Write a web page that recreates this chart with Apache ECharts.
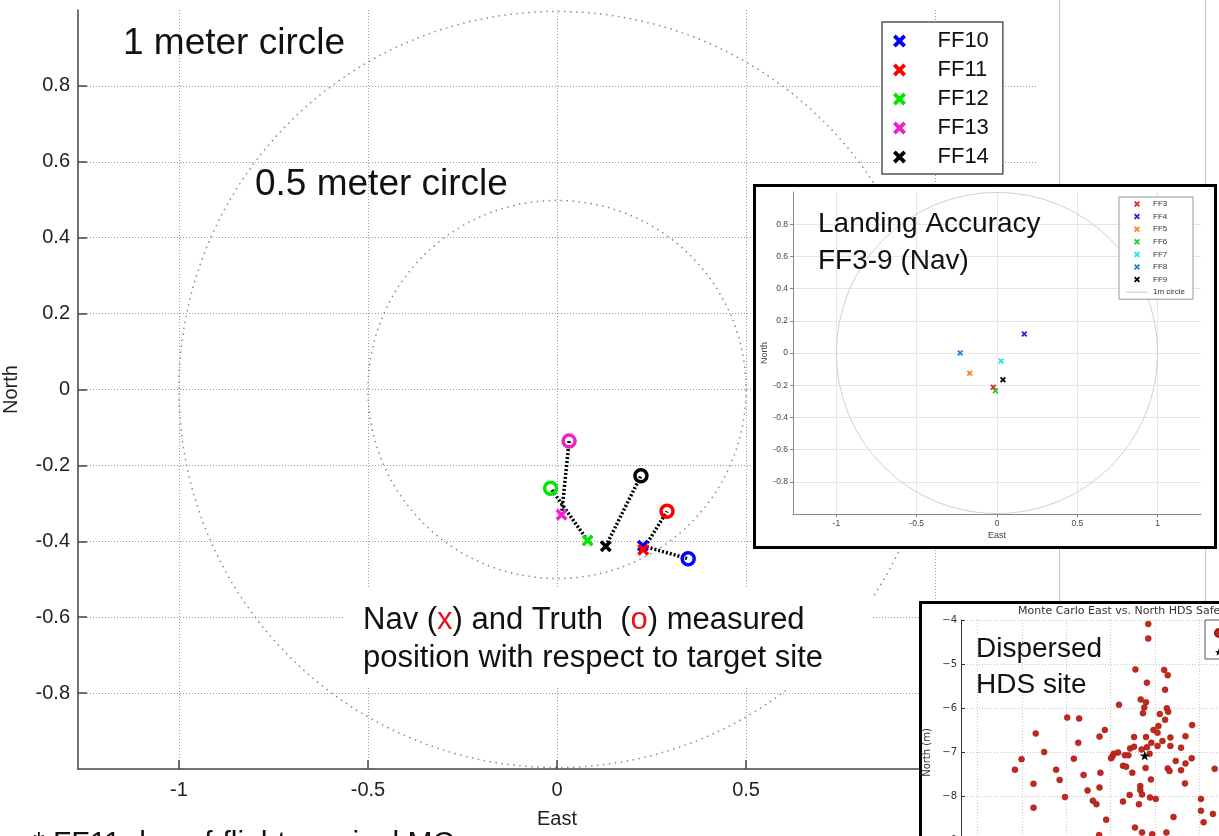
<!DOCTYPE html>
<html>
<head>
<meta charset="utf-8">
<title>Landing accuracy</title>
<script src="https://cdn.jsdelivr.net/npm/echarts@6.0.0/dist/echarts.min.js"></script>
<style>
  html, body { margin: 0; padding: 0; background: #fff; }
  #chart { width: 1219px; height: 836px; }
</style>
</head>
<body>
<div id="chart"></div>
<script>
// main plot: FF10-FF14, nav (x) vs truth (o), metres from target
const flights = ['FF10', 'FF11', 'FF12', 'FF13', 'FF14']
const flightColors = ['#0000ff', '#ff0000', '#00e600', '#ee22cc', '#000000']
const navEast = [0.227, 0.228, 0.081, 0.012, 0.129]
const navNorth = [-0.412, -0.422, -0.398, -0.330, -0.413]
const truthEast = [0.347, 0.291, -0.017, 0.032, 0.222]
const truthNorth = [-0.446, -0.321, -0.260, -0.136, -0.227]
const circleRadii = [1, 0.5]
const eastTicks = [-1, -0.5, 0, 0.5, 1]
const northTicks = [-0.8, -0.6, -0.4, -0.2, 0, 0.2, 0.4, 0.6, 0.8]

// inset: landing accuracy FF3-9 (nav)
const insetFlights = ['FF3', 'FF4', 'FF5', 'FF6', 'FF7', 'FF8', 'FF9']
const insetColors = ['#ee2020', '#2020d8', '#ff8020', '#22cc22', '#22e6e6', '#2080e0', '#000000']
const insetEast = [-0.023, 0.170, -0.170, -0.010, 0.025, -0.229, 0.037]
const insetNorth = [-0.213, 0.118, -0.126, -0.234, -0.050, 0.000, -0.166]

// monte carlo dispersed HDS sites
const mcEast = [-1.15, -1.15, -1.44, -0.79, -0.71, -1.18, -0.77, -1.81, -1.32, -1.20,
  -1.24, -1.27, -0.73, -0.70, -0.89, -2.98, -2.71, -0.16, -0.77, -0.92,
  -1.03, -0.94, -2.13, -2.25, -1.47, -1.20, -0.65, -0.31, -3.69, -2.73,
  -1.08, -0.83, -0.94, -0.65, -1.18, -0.41, -1.30, -1.56, -1.47, -1.83,
  -1.93, -3.50, -1.68, -1.60, -1.12, -1.96, -1.99, -4.01, -2.83, -0.17,
  -0.31, -0.53, -1.72, -1.65, -1.21, -0.71, -0.67, -0.41, -4.16, -3.23,
  -2.23, -1.51, -2.61, -3.15, -1.09, -0.32, -3.74, -1.33, -1.33, -2.25,
  -2.52, -1.57, -1.29, -3.03, -1.11, -0.98, -2.40, -2.32, -1.72, -1.36,
  0.04, -3.74, 0.04, 0.31, 0.10, -0.58, -2.10, -1.45, -1.29, -0.74,
  -2.26, -1.06, 0.35]
const mcNorth = [-4.09, -4.42, -5.12, -5.13, -5.25, -5.42, -5.58, -5.92, -5.80, -5.86,
  -5.98, -6.11, -6.00, -6.08, -6.13, -6.21, -6.23, -6.38, -6.26, -6.40,
  -6.49, -6.55, -6.49, -6.64, -6.65, -6.65, -6.66, -6.63, -6.57, -6.78,
  -6.78, -6.74, -6.85, -6.85, -6.88, -6.89, -6.93, -6.91, -6.87, -7.00,
  -7.03, -6.99, -7.06, -7.06, -7.03, -7.09, -7.13, -7.15, -7.14, -7.13,
  -7.25, -7.19, -7.30, -7.32, -7.35, -7.36, -7.42, -7.40, -7.39, -7.39,
  -7.46, -7.46, -7.51, -7.62, -7.61, -7.70, -7.71, -7.76, -7.85, -7.79,
  -7.86, -7.96, -7.95, -8.01, -8.02, -8.05, -8.09, -8.17, -8.11, -8.17,
  -8.05, -8.25, -8.32, -8.39, -8.58, -8.46, -8.52, -8.70, -8.81, -8.81,
  -8.87, -8.85, -7.37]
const mcTargetEast = [-1.23]
const mcTargetNorth = [-7.07]
const mcEastTicks = [-5, -4, -3, -2, -1, 0, 1, 2]

const X_ICON = 'path://M0,2.5 L2.5,0 L6,3.5 L9.5,0 L12,2.5 L8.5,6 L12,9.5 L9.5,12 L6,8.5 L2.5,12 L0,9.5 L3.5,6 Z'
const STAR = 'path://M5,0 L6.2,3.6 L10,3.6 L6.9,5.8 L8.1,9.5 L5,7.2 L1.9,9.5 L3.1,5.8 L0,3.6 L3.8,3.6 Z'
const SANS = 'Liberation Sans, Arial, sans-serif'
const DEJA = 'DejaVu Sans, sans-serif'

let chart = echarts.init(document.getElementById('chart'))

// circles drawn through the axis scale
function circleRenderer (style) {
  return function (params, api) {
    const c = api.coord([api.value(0), api.value(1)])
    const r = api.size([api.value(2), 0])[0]
    return {
      type: 'circle',
      shape: { cx: c[0], cy: c[1], r: r },
      style: Object.assign({ fill: 'none' }, style)
    }
  }
}

let series = []

// main plot
series.push({
  type: 'custom', name: 'circles', xAxisIndex: 0, yAxisIndex: 0, zlevel: 0, z: 1, silent: true,
  data: circleRadii.map(r => [0, 0, r]),
  encode: { x: 0, y: 1 },
  renderItem: circleRenderer({ stroke: '#8a8a8a', lineWidth: 1.5, lineDash: [1.5, 4.5] })
})
flights.forEach((f, i) => {
  series.push({
    type: 'line', name: f + ' path', xAxisIndex: 0, yAxisIndex: 0, zlevel: 0, z: 2,
    data: [[navEast[i], navNorth[i]], [truthEast[i], truthNorth[i]]],
    symbol: 'none', silent: true,
    lineStyle: { color: '#000', width: 3.5, type: [2, 2] }
  })
})
flights.forEach((f, i) => {
  series.push({
    type: 'scatter', name: f + ' truth', xAxisIndex: 0, yAxisIndex: 0, zlevel: 0, z: 3,
    data: [[truthEast[i], truthNorth[i]]],
    symbol: 'circle', symbolSize: 12,
    itemStyle: { color: 'rgba(0,0,0,0)', borderColor: flightColors[i], borderWidth: 3.5, opacity: 1 }
  })
})
flights.forEach((f, i) => {
  series.push({
    type: 'scatter', name: f, xAxisIndex: 0, yAxisIndex: 0, zlevel: 0, z: 4,
    data: [[navEast[i], navNorth[i]]],
    symbol: X_ICON, symbolSize: 12,
    itemStyle: { color: flightColors[i], opacity: 1 }
  })
})

// inset 1
series.push({
  type: 'custom', name: '1m circle', xAxisIndex: 1, yAxisIndex: 1, zlevel: 1, z: 6, silent: true,
  data: [[0, 0, 1]],
  encode: { x: 0, y: 1 },
  itemStyle: { color: '#c8c8c8' },
  renderItem: circleRenderer({ stroke: '#d0d0d0', lineWidth: 1 })
})
insetFlights.forEach((f, i) => {
  series.push({
    type: 'scatter', name: f, xAxisIndex: 1, yAxisIndex: 1, zlevel: 1, z: 7,
    data: [[insetEast[i], insetNorth[i]]],
    symbol: X_ICON, symbolSize: 6,
    itemStyle: { color: insetColors[i], opacity: 1 }
  })
})

// inset 2
series.push({
  type: 'scatter', name: 'HDS sites', xAxisIndex: 2, yAxisIndex: 2, zlevel: 2, z: 7,
  data: mcEast.map((e, i) => [e, mcNorth[i]]),
  symbol: 'circle', symbolSize: 6,
  itemStyle: { color: '#c4281c', borderColor: '#8e1a12', borderWidth: 0.5, opacity: 1 }
})
series.push({
  type: 'scatter', name: 'Nominal site', xAxisIndex: 2, yAxisIndex: 2, zlevel: 2, z: 8,
  data: mcTargetEast.map((e, i) => [e, mcTargetNorth[i]]),
  symbol: STAR, symbolSize: 10,
  itemStyle: { color: '#000', opacity: 1 }
})

function mainAxis (name, ticks, gap, extra) {
  return Object.assign({
    type: 'value', zlevel: 0, z: 1,
    name: name, nameLocation: 'middle', nameGap: gap,
    nameTextStyle: { fontSize: 20, color: '#222', fontFamily: SANS },
    axisLine: { onZero: false, lineStyle: { color: '#444', width: 1.5 } },
    axisTick: { inside: true, length: 9, customValues: ticks, lineStyle: { color: '#444', width: 1.5 } },
    splitLine: { show: true, lineStyle: { color: '#9a9a9a', width: 1, type: [1, 2] } }
  }, extra)
}

function insetAxis (name, ticks, gap, extra) {
  return Object.assign({
    type: 'value', zlevel: 1, z: 5,
    name: name, nameLocation: 'middle', nameGap: gap,
    nameTextStyle: { fontSize: 9, color: '#444', fontFamily: SANS },
    axisLine: { onZero: false, lineStyle: { color: '#888', width: 1 } },
    axisTick: { length: 3, customValues: ticks, lineStyle: { color: '#888' } },
    axisLabel: { customValues: ticks, fontSize: 8.5, color: '#444', margin: 5, fontFamily: SANS, formatter: v => String(+v.toFixed(2)) },
    splitLine: { show: true, lineStyle: { color: '#e6e6e6', width: 1 } }
  }, extra)
}

let option = {
  backgroundColor: '#fff',
  animation: false,
  grid: [
    { left: 78, top: 10, width: 958, height: 759, zlevel: 0, outerBoundsMode: 'none', containLabel: false },
    { left: 793, top: 192, width: 408, height: 322, zlevel: 1, outerBoundsMode: 'none', containLabel: false },
    { left: 961, top: 620, width: 364, height: 265, zlevel: 2, outerBoundsMode: 'none', containLabel: false }
  ],
  xAxis: [
    mainAxis('East', eastTicks, 40, {
      gridIndex: 0, min: -1.267, max: 1.267,
      axisLabel: { customValues: eastTicks, fontSize: 20, color: '#222', margin: 11, fontFamily: SANS, formatter: v => String(v) }
    }),
    insetAxis('East', eastTicks, 17, { gridIndex: 1, min: -1.27, max: 1.27 }),
    {
      gridIndex: 2, type: 'value', min: -5.377, max: 2.84, zlevel: 2, z: 5,
      axisLine: { onZero: false, lineStyle: { color: '#333' } },
      axisTick: { inside: true, customValues: mcEastTicks },
      axisLabel: { customValues: mcEastTicks, fontSize: 10, color: '#333', fontFamily: DEJA },
      splitLine: { show: true, lineStyle: { color: '#c8c8c8', type: [1, 2] } }
    }
  ],
  yAxis: [
    mainAxis('North', northTicks, 57, {
      gridIndex: 0, min: -1, max: 1,
      axisLabel: { customValues: northTicks, fontSize: 20, color: '#222', margin: 8, fontFamily: SANS, formatter: v => String(+v.toFixed(2)) }
    }),
    insetAxis('North', northTicks, 24, { gridIndex: 1, min: -1, max: 1 }),
    {
      gridIndex: 2, type: 'value', min: -10, max: -4, interval: 1, zlevel: 2, z: 5,
      name: 'North (m)', nameLocation: 'middle', nameGap: 25,
      nameTextStyle: { fontSize: 10, color: '#333', fontFamily: DEJA },
      axisLine: { onZero: false, lineStyle: { color: '#333' } },
      axisTick: { inside: true, length: 4 },
      axisLabel: { fontSize: 10, color: '#333', margin: 4, fontFamily: DEJA, formatter: v => '\u2212' + Math.abs(v) },
      splitLine: { show: true, lineStyle: { color: '#c8c8c8', type: [1, 2] } }
    }
  ],
  legend: [
    {
      zlevel: 0, z: 10, orient: 'vertical', left: 882, top: 22,
      data: flights.map(f => ({ name: f, icon: X_ICON })),
      itemWidth: 66, itemHeight: 13, itemGap: 7,
      padding: [8, 14, 6, 11],
      backgroundColor: '#fff', borderColor: '#555', borderWidth: 1.5,
      textStyle: { fontSize: 22, lineHeight: 22, color: '#111', fontFamily: SANS },
      selectedMode: false
    },
    {
      zlevel: 1, z: 10, orient: 'vertical', left: 1119, top: 197,
      data: insetFlights.map(f => ({ name: f, icon: X_ICON })).concat([{ name: '1m circle', icon: 'path://M0,0 L22,0 L22,1 L0,1 Z' }]),
      itemWidth: 22, itemHeight: 6, itemGap: 4.6,
      padding: [3, 8, 3, 7],
      backgroundColor: '#fff', borderColor: '#999', borderWidth: 1,
      textStyle: { fontSize: 8, lineHeight: 8, color: '#333', fontFamily: SANS },
      selectedMode: false
    },
    {
      zlevel: 2, z: 10, orient: 'vertical', left: 1205, top: 620,
      data: [{ name: 'HDS sites', icon: 'circle' }, { name: 'Nominal site', icon: STAR }],
      itemWidth: 8, itemHeight: 8, itemGap: 9,
      padding: [8, 4, 2, 9],
      backgroundColor: '#fff', borderColor: '#555', borderWidth: 1,
      textStyle: { fontSize: 10, lineHeight: 10, color: '#333', fontFamily: DEJA },
      selectedMode: false
    }
  ],
  graphic: [
    // slide frame lines
    { type: 'line', zlevel: 0, z: 0, shape: { x1: 1059.5, y1: 0, x2: 1059.5, y2: 602 }, style: { stroke: '#c4c4c4', lineWidth: 1 } },
    { type: 'line', zlevel: 0, z: 0, shape: { x1: 1205.5, y1: 0, x2: 1205.5, y2: 602 }, style: { stroke: '#c4c4c4', lineWidth: 1 } },
    // main annotations
    { type: 'text', zlevel: 0, z: 20, left: 123, top: 25, style: { text: '1 meter circle', fontSize: 37, fontFamily: SANS, fill: '#111' } },
    { type: 'text', zlevel: 0, z: 20, left: 255, top: 166, style: { text: '0.5 meter circle', fontSize: 37, fontFamily: SANS, fill: '#111' } },
    { type: 'rect', zlevel: 0, z: 19, shape: { x: 345, y: 588, width: 528, height: 100 }, style: { fill: '#fff' } },
    {
      type: 'text', zlevel: 0, z: 20, left: 363, top: 601,
      style: {
        text: 'Nav ({r|x}) and Truth  ({r|o}) measured\nposition with respect to target site',
        fontSize: 31, lineHeight: 38, fontFamily: SANS, fill: '#111',
        rich: { r: { fontSize: 31, fontFamily: SANS, fill: '#e8101a' } }
      }
    },
    { type: 'text', zlevel: 0, z: 20, left: 33, top: 829, style: { text: '* FF11 day-of-flight nominal MC', fontSize: 30, fontFamily: SANS, fill: '#111' } },
    // inset 1 frame and label
    { type: 'rect', zlevel: 1, z: 1, shape: { x: 754.5, y: 185.5, width: 461, height: 362 }, style: { fill: '#fff', stroke: '#000', lineWidth: 3 } },
    {
      type: 'text', zlevel: 1, z: 20, left: 818, top: 206,
      style: { text: 'Landing Accuracy\nFF3-9 (Nav)', fontSize: 28, lineHeight: 37, fontFamily: SANS, fill: '#111' }
    },
    // inset 2 frame, title and label
    { type: 'rect', zlevel: 2, z: 1, shape: { x: 920.5, y: 602.5, width: 400, height: 300 }, style: { fill: '#fff', stroke: '#000', lineWidth: 3 } },
    { type: 'text', zlevel: 2, z: 20, left: 1018, top: 606, style: { text: 'Monte Carlo East vs. North HDS Safe Site', fontSize: 11, fontFamily: DEJA, fill: '#333' } },
    {
      type: 'text', zlevel: 2, z: 20, left: 976, top: 631,
      style: { text: 'Dispersed\nHDS site', fontSize: 28, lineHeight: 36, fontFamily: SANS, fill: '#111' }
    }
  ],
  series: series
}

chart.setOption(option)
</script>
</body>
</html>
